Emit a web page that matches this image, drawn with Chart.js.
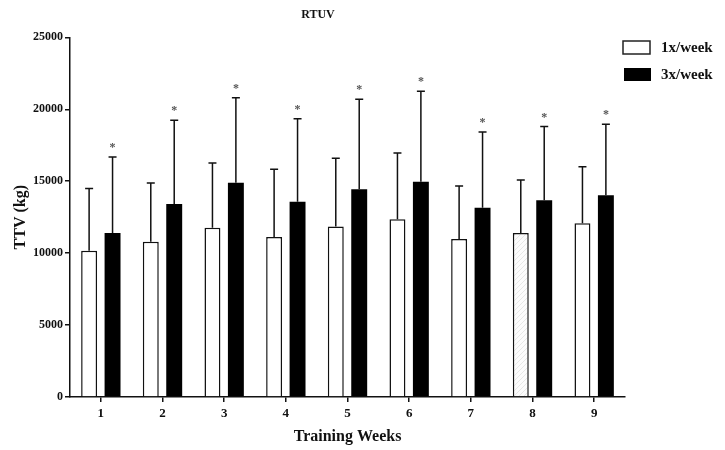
<!DOCTYPE html>
<html>
<head>
<meta charset="utf-8">
<script src="https://cdn.jsdelivr.net/npm/chart.js@4"></script>
<style>
  html, body { margin: 0; padding: 0; background: #fff; }
  #wrap { width: 725px; height: 450px; }
</style>
</head>
<body>
<div id="wrap"><canvas id="chart" width="725" height="450"></canvas></div>
<script>
// data
const weeks = ["1", "2", "3", "4", "5", "6", "7", "8", "9"];
const onceMean = [10160, 10790, 11760, 11130, 11850, 12360, 10990, 11410, 12080];
const onceSD = [4330, 4090, 4510, 4700, 4750, 4610, 3680, 3680, 3920];
const thriceMean = [11410, 13420, 14900, 13580, 14440, 14970, 13150, 13680, 14030];
const thriceSD = [5280, 5820, 5910, 5770, 6260, 6280, 5280, 5120, 4930];
const yTicks = [0, 5000, 10000, 15000, 20000, 25000];
const seriesNames = ["1x/week", "3x/week"];

const SERIF = "'Liberation Serif', 'DejaVu Serif', serif";

// very faint hatch used on the week 8 white bar
function hatch() {
    const c = document.createElement("canvas");
    c.width = 5; c.height = 5;
    const g = c.getContext("2d");
    g.fillStyle = "#fbfbfb";
    g.fillRect(0, 0, 5, 5);
    g.strokeStyle = "#e6e6e6";
    g.lineWidth = 1;
    g.beginPath();
    g.moveTo(0, 5); g.lineTo(5, 0);
    g.stroke();
    return g.createPattern(c, "repeat");
}
const whiteFills = weeks.map((w, i) => i === 7 ? hatch() : "#fff");

// upper error bars + significance stars
const errorBars = {
    id: "errorBars",
    afterDatasetsDraw(chart) {
        const ctx = chart.ctx;
        const y = chart.scales.y;
        const sets = [[onceMean, onceSD], [thriceMean, thriceSD]];
        ctx.save();
        sets.forEach(([m, sd], di) => {
            const meta = chart.getDatasetMeta(di);
            meta.data.forEach((bar, i) => {
                const top = y.getPixelForValue(m[i] + sd[i]);
                const base = y.getPixelForValue(m[i]);
                ctx.strokeStyle = "#111";
                ctx.lineWidth = 1.5;
                ctx.beginPath();
                ctx.moveTo(bar.x, base);
                ctx.lineTo(bar.x, top);
                ctx.moveTo(bar.x - 4, top);
                ctx.lineTo(bar.x + 4, top);
                ctx.stroke();
                if (di === 1) {
                    ctx.fillStyle = "#555";
                    ctx.font = "bold 12px " + SERIF;
                    ctx.textAlign = "center";
                    ctx.textBaseline = "middle";
                    ctx.fillText("*", bar.x, top - 9);
                }
            });
        });
        ctx.restore();
    }
};

// legend on the right, drawn by hand
const sideLegend = {
    id: "sideLegend",
    afterDraw(chart) {
        const ctx = chart.ctx;
        const x0 = chart.chartArea.right - 2;
        ctx.save();
        ctx.font = "bold 15px " + SERIF;
        ctx.textBaseline = "middle";
        ctx.textAlign = "left";
        // 1x/week
        ctx.fillStyle = "#fff";
        ctx.strokeStyle = "#222";
        ctx.lineWidth = 1.5;
        ctx.fillRect(x0, 41, 27, 13);
        ctx.strokeRect(x0, 41, 27, 13);
        ctx.fillStyle = "#111";
        ctx.fillText(seriesNames[0], x0 + 38, 48);
        // 3x/week
        ctx.fillStyle = "#000";
        ctx.fillRect(x0 + 1, 68, 27, 13);
        ctx.fillStyle = "#111";
        ctx.fillText(seriesNames[1], x0 + 38, 75);
        ctx.restore();
    }
};

new Chart(document.getElementById("chart"), {
    type: "bar",
    data: {
        labels: weeks,
        datasets: [
            {
                label: seriesNames[0],
                data: onceMean,
                backgroundColor: whiteFills,
                borderColor: "#111",
                borderWidth: 1.5,
                borderSkipped: "bottom",
                barPercentage: 0.68,
                categoryPercentage: 0.76
            },
            {
                label: seriesNames[1],
                data: thriceMean,
                backgroundColor: "#000",
                borderWidth: 0,
                barPercentage: 0.68,
                categoryPercentage: 0.76
            }
        ]
    },
    options: {
        responsive: false,
        animation: false,
        layout: { padding: { left: 11, right: 100, top: 0, bottom: 4 } },
        plugins: {
            legend: { display: false },
            tooltip: { enabled: false },
            title: {
                display: true,
                text: "RTUV",
                color: "#111",
                font: { family: SERIF, size: 12, weight: "bold" },
                padding: { top: 8, bottom: 15 }
            }
        },
        scales: {
            x: {
                afterFit: s => { s.height = 49; },
                grid: {
                    offset: false,
                    drawOnChartArea: false,
                    drawTicks: true,
                    tickLength: 5,
                    color: "#111",
                    lineWidth: 1.5
                },
                border: { display: true, color: "#111", width: 1.5 },
                ticks: {
                    color: "#111",
                    padding: 4,
                    font: { family: SERIF, size: 13, weight: "bold" }
                },
                title: {
                    display: true,
                    text: "Training Weeks",
                    color: "#111",
                    font: { family: SERIF, size: 16, weight: "bold" },
                    padding: { top: 8, bottom: 0 }
                }
            },
            y: {
                min: 0,
                max: 25000,
                afterFit: s => { s.width = 59; },
                afterBuildTicks: s => { s.ticks = yTicks.map(v => ({ value: v })); },
                grid: {
                    drawOnChartArea: false,
                    drawTicks: true,
                    tickLength: 5,
                    color: "#111",
                    lineWidth: 1.5
                },
                border: { display: true, color: "#111", width: 1.5 },
                ticks: {
                    color: "#111",
                    padding: 2,
                    font: { family: SERIF, size: 12, weight: "bold" },
                    callback: v => String(v)
                },
                title: {
                    display: true,
                    text: "TTV (kg)",
                    color: "#111",
                    font: { family: SERIF, size: 16, weight: "bold" },
                    padding: { top: 0, bottom: 4 }
                }
            }
        }
    },
    plugins: [errorBars, sideLegend]
});
</script>
</body>
</html>
